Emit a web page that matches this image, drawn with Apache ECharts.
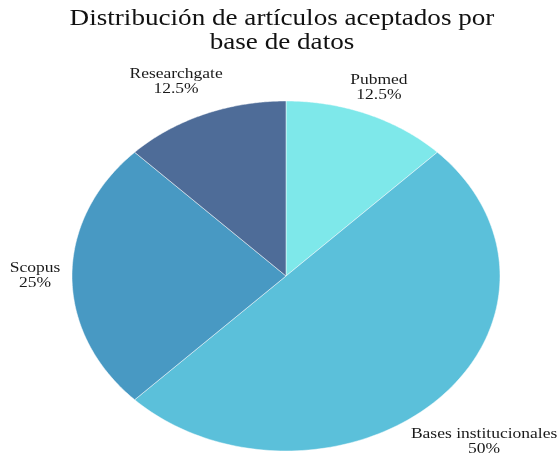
<!DOCTYPE html>
<html>
<head>
<meta charset="utf-8">
<script src="https://cdn.jsdelivr.net/npm/echarts@6/dist/echarts.min.js"></script>
<style>
html,body{margin:0;padding:0;background:#fff;}
#chart{width:559px;height:455px;}
</style>
</head>
<body>
<div id="chart"></div>
<script>
// ---- data ----
const categories = ['Pubmed', 'Bases institucionales', 'Scopus', 'Researchgate'];
const values = [12.5, 50, 25, 12.5];
const titleText = 'Distribución de artículos aceptados por\nbase de datos';

// ---- layout / style ----
const palette = ['#7ee8ea', '#5bc0da', '#4899c3', '#4e6c98'];
const CX = 286, CY = 276, RX = 214, RY = 175;
const labelKX = [1.134, 1.309, 1.173, 1.342];
const labelKY = [1.163, 1.342, 1.0, 1.2];
const serif = '"Liberation Serif", "DejaVu Serif", serif';

const total = values.reduce((a, b) => a + b, 0);

const chart = echarts.init(document.getElementById('chart'), null, {renderer: 'canvas'});

function renderItem(params, api) {
  const i = params.dataIndex;
  const v = api.value(0);
  let before = 0;
  for (let j = 0; j < i; j++) before += values[j];
  const a0 = Math.PI / 2 - before / total * Math.PI * 2;
  const a1 = a0 - v / total * Math.PI * 2;
  const pts = [[CX, CY]];
  const N = 120;
  for (let k = 0; k <= N; k++) {
    const a = a0 + (a1 - a0) * k / N;
    pts.push([CX + RX * Math.cos(a), CY - RY * Math.sin(a)]);
  }
  const am = (a0 + a1) / 2;
  const lx = CX + RX * labelKX[i] * Math.cos(am);
  const ly = CY - RY * labelKY[i] * Math.sin(am);
  const pct = Math.round(v / total * 1000) / 10;
  return {
    type: 'group',
    children: [
      {
        type: 'polygon',
        shape: {points: pts},
        style: {fill: palette[i], stroke: 'rgba(255,255,255,0.6)', lineWidth: 0.8}
      },
      {
        type: 'text',
        x: lx, y: ly,
        scaleX: 1.25, scaleY: 1,
        style: {
          text: categories[i] + '\n' + pct + '%',
          x: 0, y: 0,
          align: 'center', verticalAlign: 'middle',
          fontFamily: serif, fontSize: 14, lineHeight: 15,
          fill: '#1a1a1a'
        }
      }
    ]
  };
}

chart.setOption({
  animation: false,
  backgroundColor: '#fff',
  graphic: [{
    type: 'text',
    x: 282, y: 7,
    scaleX: 1.13, scaleY: 1,
    style: {
      text: titleText,
      x: 0, y: 0,
      align: 'center', verticalAlign: 'top',
      fontFamily: serif, fontSize: 24, lineHeight: 24,
      fill: '#111'
    }
  }],
  series: [{
    type: 'custom',
    coordinateSystem: 'none',
    renderItem: renderItem,
    data: values.map(v => [v])
  }]
});
</script>
</body>
</html>
